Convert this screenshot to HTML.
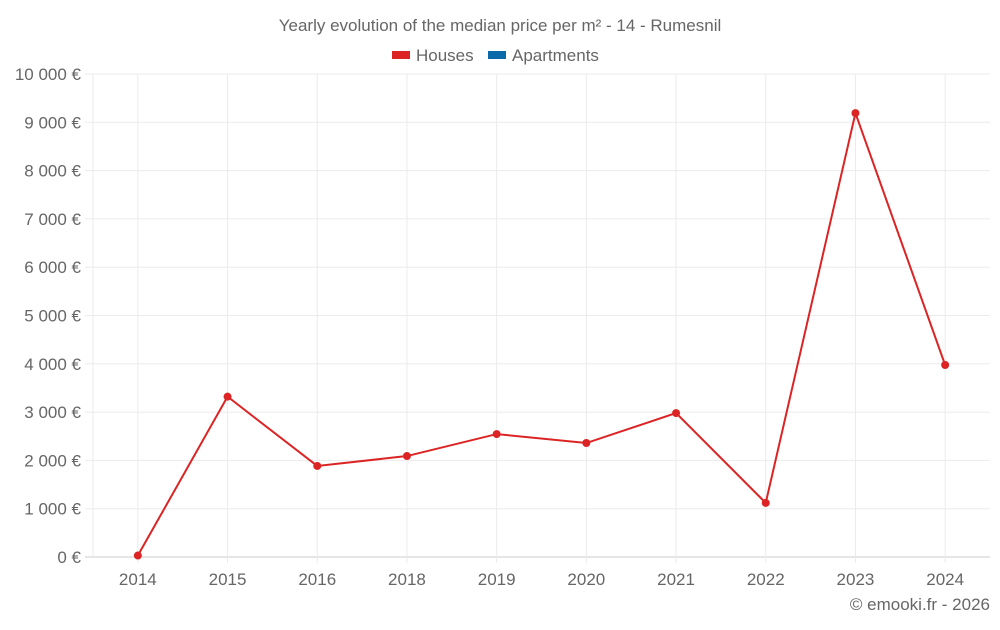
<!DOCTYPE html>
<html><head><meta charset="utf-8">
<style>
html,body{margin:0;padding:0;background:#fff;}
body{width:1000px;height:625px;overflow:hidden;font-family:"Liberation Sans",sans-serif;}
</style></head>
<body>
<svg width="1000" height="625" xmlns="http://www.w3.org/2000/svg">
<text x="500" y="31" text-anchor="middle" font-size="17" fill="#666">Yearly evolution of the median price per m² - 14 - Rumesnil</text>
<g>
<g><rect x="392" y="51" width="18" height="8" fill="#dc2424"/><text x="416" y="61" font-size="17" fill="#666">Houses</text></g>
<g><rect x="488" y="51" width="18" height="8" fill="#0a6aa8"/><text x="512" y="61" font-size="17" fill="#666">Apartments</text></g>
</g>
<g id="grid"></g>
<g id="axes"></g>
<g id="series"></g>
<text x="990" y="610" text-anchor="end" font-size="17" fill="#666">© emooki.fr - 2026</text>
</svg>
<script>
const categories=["2014","2015","2016","2018","2019","2020","2021","2022","2023","2024"];
const houses=[30,3320,1885,2090,2545,2360,2980,1120,9190,3975];
const yTicks=[0,1000,2000,3000,4000,5000,6000,7000,8000,9000,10000];
const yLabels=["0 €","1 000 €","2 000 €","3 000 €","4 000 €","5 000 €","6 000 €","7 000 €","8 000 €","9 000 €","10 000 €"];
const L=93,R=990,T=74,B=557,NS="http://www.w3.org/2000/svg";
const band=(R-L)/categories.length;
const x=i=>L+band*(i+0.5);
const y=v=>B-(v/10000)*(B-T);
function mk(tag,attrs,parent){const e=document.createElementNS(NS,tag);for(const k in attrs)e.setAttribute(k,attrs[k]);parent.appendChild(e);return e;}
const grid=document.getElementById('grid'),axes=document.getElementById('axes'),ser=document.getElementById('series');
yTicks.forEach((t,i)=>{
 const l=mk('line',{x1:L-8,x2:R,y1:y(t),y2:y(t),stroke:t===0?'#ccc':'#ebebeb','stroke-width':1},grid);
 
 
 const tx=mk('text',{x:L-12,y:y(t)+6,'text-anchor':'end','font-size':17,fill:'#666'},axes);
 tx.textContent=yLabels[i];
 
 
});
const la=mk('line',{x1:L,x2:L,y1:T,y2:B,stroke:'#ebebeb'},grid);


categories.forEach((c,i)=>{
 const l=mk('line',{x1:x(i),x2:x(i),y1:T,y2:B+6,stroke:'#ebebeb'},grid);
 
 
 const tx=mk('text',{x:x(i),y:B+28,'text-anchor':'middle','font-size':17,fill:'#666'},axes);
 tx.textContent=c;
 
 
});
const p=mk('polyline',{points:houses.map((v,i)=>x(i)+','+y(v)).join(' '),fill:'none',stroke:'#dc2424','stroke-width':2},ser);


houses.forEach((v,i)=>{
 const c=mk('circle',{cx:x(i),cy:y(v),r:4,fill:'#dc2424'},ser);
 
 
});
</script>
</body></html>
